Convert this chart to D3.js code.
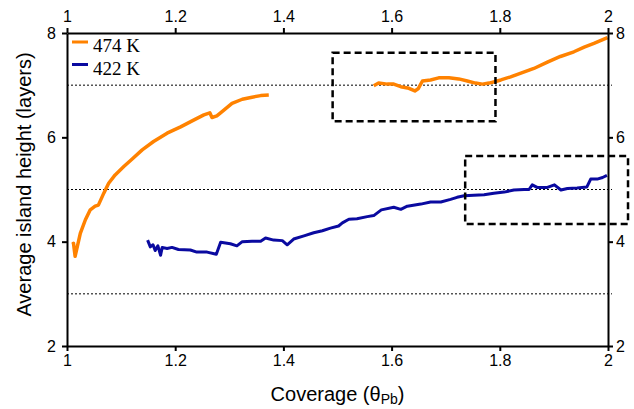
<!DOCTYPE html>
<html>
<head>
<meta charset="utf-8">
<script src="https://cdn.jsdelivr.net/npm/d3@7"></script>
<style>
  body { margin: 0; background: #fff; }
  text { font-family: "Liberation Sans", Arial, sans-serif; }
</style>
</head>
<body>
<div id="display-container"></div>
<script>
// 474 K, first part (low coverage)
var hot1X = [1.010, 1.012, 1.015, 1.0246, 1.034, 1.043, 1.052, 1.058, 1.068, 1.077, 1.089, 1.105, 1.120, 1.139, 1.160, 1.185, 1.210, 1.234, 1.253, 1.264, 1.268, 1.277, 1.290, 1.305, 1.324, 1.342, 1.358, 1.373];
var hot1Y = [3.95, 3.97, 3.72, 4.16, 4.42, 4.61, 4.68, 4.70, 4.93, 5.12, 5.28, 5.44, 5.58, 5.76, 5.92, 6.08, 6.20, 6.33, 6.43, 6.47, 6.38, 6.41, 6.52, 6.65, 6.73, 6.77, 6.80, 6.81];
// 474 K, second part
var hot2X = [1.567, 1.576, 1.592, 1.604, 1.617, 1.632, 1.643, 1.649, 1.657, 1.672, 1.687, 1.706, 1.724, 1.740, 1.755, 1.768, 1.780, 1.792, 1.802, 1.820, 1.839, 1.863, 1.888, 1.912, 1.937, 1.956, 1.974, 1.999];
var hot2Y = [6.99, 7.04, 7.02, 7.02, 6.97, 6.94, 6.89, 6.93, 7.08, 7.10, 7.14, 7.14, 7.12, 7.08, 7.04, 7.02, 7.04, 7.07, 7.10, 7.16, 7.23, 7.32, 7.44, 7.55, 7.64, 7.73, 7.80, 7.91];
// 422 K
var coldX = [1.149, 1.154, 1.159, 1.163, 1.168, 1.173, 1.176, 1.185, 1.194, 1.206, 1.228, 1.240, 1.259, 1.276, 1.284, 1.302, 1.314, 1.324, 1.342, 1.358, 1.367, 1.382, 1.398, 1.407, 1.419, 1.438, 1.456, 1.472, 1.487, 1.502, 1.509, 1.521, 1.536, 1.555, 1.567, 1.581, 1.604, 1.617, 1.629, 1.654, 1.672, 1.691, 1.709, 1.721, 1.734, 1.752, 1.771, 1.789, 1.808, 1.826, 1.845, 1.854, 1.860, 1.869, 1.888, 1.901, 1.913, 1.925, 1.943, 1.961, 1.968, 1.980, 1.990, 1.998];
var coldY = [4.03, 3.90, 3.94, 3.83, 3.92, 3.74, 3.89, 3.87, 3.89, 3.85, 3.84, 3.80, 3.80, 3.76, 3.99, 3.96, 3.92, 4.00, 4.01, 4.01, 4.07, 4.03, 4.02, 3.94, 4.05, 4.11, 4.17, 4.21, 4.26, 4.30, 4.36, 4.43, 4.44, 4.48, 4.50, 4.61, 4.66, 4.62, 4.68, 4.72, 4.76, 4.76, 4.81, 4.85, 4.88, 4.89, 4.90, 4.93, 4.95, 4.99, 5.00, 5.00, 5.09, 5.04, 5.04, 5.09, 4.99, 5.02, 5.03, 5.05, 5.20, 5.20, 5.23, 5.27];

var seriesNames = ["474 K", "422 K"];
var seriesColors = ["#ff8200", "#0a0aa0"];
var xTicks = [1, 1.2, 1.4, 1.6, 1.8, 2];
var yTicks = [2, 4, 6, 8];
var guideLevels = [3, 5, 7];
// zoom boxes: [x0, x1, y0, y1] in data units
var boxes = [[1.491, 1.792, 6.31, 7.62], [1.736, 2.037, 4.34, 5.64]];

var width = 634, height = 409;
var margin = {top: 33, right: 26, bottom: 63, left: 67};

var svg = d3.select("#display-container").append("svg")
    .attr("width", width)
    .attr("height", height);

var x = d3.scaleLinear().domain([1, 2]).range([margin.left, width - margin.right]);
var y = d3.scaleLinear().domain([2, 8]).range([height - margin.bottom, margin.top]);

// dotted guide lines
svg.selectAll(".guide")
    .data(guideLevels)
    .enter().append("line")
    .attr("class", "guide")
    .attr("x1", x(1)).attr("x2", x(2) + 4)
    .attr("y1", function(d){ return y(d); })
    .attr("y2", function(d){ return y(d); })
    .attr("stroke", "#000")
    .attr("stroke-width", 1)
    .attr("stroke-dasharray", "2,2");

var line = d3.line()
    .x(function(d){ return x(d[0]); })
    .y(function(d){ return y(d[1]); });

var curves = [
    {pts: d3.zip(hot1X, hot1Y), c: seriesColors[0], w: 3.5},
    {pts: d3.zip(hot2X, hot2Y), c: seriesColors[0], w: 3.5},
    {pts: d3.zip(coldX, coldY), c: seriesColors[1], w: 3}
];
svg.selectAll(".curve")
    .data(curves)
    .enter().append("path")
    .attr("class", "curve")
    .attr("d", function(d){ return line(d.pts); })
    .attr("fill", "none")
    .attr("stroke", function(d){ return d.c; })
    .attr("stroke-width", function(d){ return d.w; })
    .attr("stroke-linejoin", "round");

// dashed boxes
svg.selectAll(".box")
    .data(boxes)
    .enter().append("rect")
    .attr("class", "box")
    .attr("x", function(d){ return x(d[0]); })
    .attr("width", function(d){ return x(d[1]) - x(d[0]); })
    .attr("y", function(d){ return y(d[3]); })
    .attr("height", function(d){ return y(d[2]) - y(d[3]); })
    .attr("fill", "none")
    .attr("stroke", "#000")
    .attr("stroke-width", 2.5)
    .attr("stroke-dasharray", "7,4");

// axes
var fmt = d3.format("");
var yfmt = d3.format("d");
function styleAxis(g){
    g.selectAll(".domain").attr("stroke-width", 2);
    g.selectAll(".tick line").attr("stroke-width", 2);
    g.selectAll("text").style("font-size", "16px").attr("fill", "#000");
}
svg.append("g").attr("transform", "translate(0," + y(2) + ")")
    .call(d3.axisBottom(x).tickValues(xTicks).tickFormat(fmt).tickSize(5).tickSizeOuter(0).tickPadding(4))
    .call(styleAxis);
svg.append("g").attr("transform", "translate(0," + y(8) + ")")
    .call(d3.axisTop(x).tickValues(xTicks).tickFormat(fmt).tickSize(5).tickSizeOuter(0).tickPadding(6))
    .call(styleAxis);
svg.append("g").attr("transform", "translate(" + x(1) + ",0)")
    .call(d3.axisLeft(y).tickValues(yTicks).tickFormat(yfmt).tickSize(5).tickSizeOuter(0).tickPadding(6))
    .call(styleAxis);
svg.append("g").attr("transform", "translate(" + x(2) + ",0)")
    .call(d3.axisRight(y).tickValues(yTicks).tickFormat(yfmt).tickSize(5).tickSizeOuter(0).tickPadding(3))
    .call(styleAxis);

// axis titles
svg.append("text")
    .attr("transform", "translate(31," + (y(5) - 5) + ") rotate(-90)")
    .attr("text-anchor", "middle")
    .style("font-size", "20px")
    .text("Average island height (layers)");

var xt = svg.append("text")
    .attr("x", (x(1) + x(2)) / 2)
    .attr("y", 401)
    .attr("text-anchor", "middle")
    .style("font-size", "20px");
xt.append("tspan").text("Coverage (θ");
xt.append("tspan").style("font-size", "14px").attr("dy", 3).text("Pb");
xt.append("tspan").attr("dy", -3).text(")");

// legend
var legend = svg.selectAll(".legend")
    .data(seriesNames)
    .enter().append("g")
    .attr("class", "legend")
    .attr("transform", function(d, i){ return "translate(72," + (42 + i * 22.5) + ")"; });
legend.append("line")
    .attr("x1", 0).attr("x2", 16)
    .attr("stroke", function(d, i){ return seriesColors[i]; })
    .attr("stroke-width", 3);
legend.append("text")
    .attr("x", 21).attr("y", 10)
    .style("font-family", "'Liberation Serif', 'Times New Roman', serif")
    .style("font-size", "19px")
    .text(function(d){ return d; });
</script>
</body>
</html>
